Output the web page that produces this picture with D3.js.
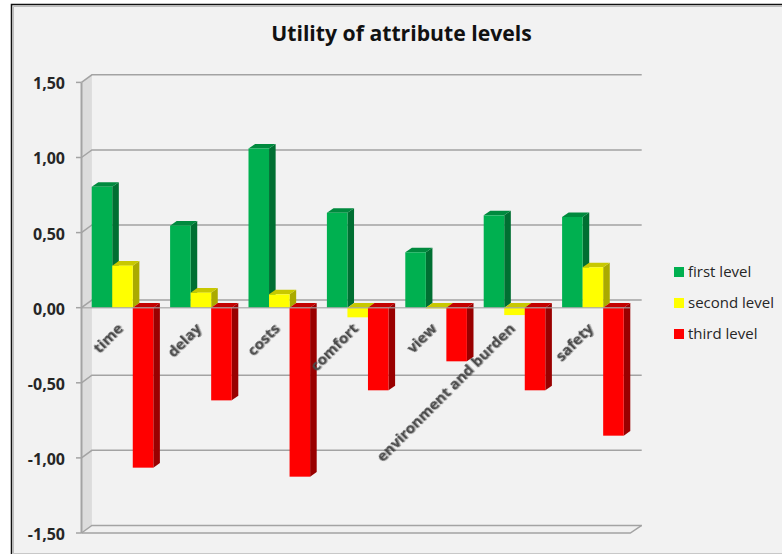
<!DOCTYPE html>
<html>
<head>
<meta charset="utf-8">
<script src="https://cdn.jsdelivr.net/npm/d3@7/dist/d3.min.js"></script>
<style>
html, body { margin: 0; padding: 0; background: #fff; }
svg { display: block; }
text { font-family: "Open Sans", "Noto Sans", sans-serif; }
</style>
</head>
<body>
<svg id="chart" width="782" height="554"></svg>
<script>
const title = "Utility of attribute levels";
const categories = ["time", "delay", "costs", "comfort", "view", "environment and burden", "safety"];
const seriesNames = ["first level", "second level", "third level"];
const firstLevel = [0.805, 0.546, 1.06, 0.632, 0.369, 0.615, 0.604];
const secondLevel = [0.28, 0.10, 0.089, -0.064, -0.005, -0.049, 0.269];
const thirdLevel = [-1.065, -0.617, -1.125, -0.55, -0.357, -0.55, -0.852];
const yTicks = [-1.5, -1, -0.5, 0, 0.5, 1, 1.5];

const seriesValues = [firstLevel, secondLevel, thirdLevel];
const faceColors = ["#00b050", "#ffff00", "#ff0000"];
const topColors = ["#008a3e", "#c8c800", "#c40000"];
const sideColors = ["#006f32", "#aaaa00", "#990000"];

const svg = d3.select("#chart");
const gridColor = "#a3a3a3";
const tickFormat = v => d3.format(".2f")(v).replace(".", ",").replace("−", "-");

// Frame of the chart area
svg.append("rect").attr("x", 12).attr("y", 5).attr("width", 770).attr("height", 548).attr("fill", "#f2f2f2");
svg.append("path").attr("d", "M13.5,553V6.5H782").attr("fill", "none").attr("stroke", "#bdbdbd").attr("stroke-width", 1);
svg.append("path").attr("d", "M11.5,554V4.5H782").attr("fill", "none").attr("stroke", "#111").attr("stroke-width", 1.5);
svg.append("path").attr("d", "M12,553.5H782").attr("stroke", "#c8c8c8").attr("fill", "none");

// Front plane scales; the back wall sits at a fixed oblique offset
const y = d3.scaleLinear().domain([-1.5, 1.5]).range([533, 82.4]);
const x = d3.scaleBand().domain(categories).range([81.5, 630.3]);
const depthX = 10.4, depthY = 7.6;
const barDepthX = 6.6, barDepthY = 4.6;
const inset = 10.2;
const barWidth = (x.bandwidth() - inset - barDepthX) / 3;

// Side wall and floor of the box
svg.append("polygon")
  .attr("points", [[81.5, y(1.5)], [81.5 + depthX, y(1.5) - depthY], [81.5 + depthX, y(-1.5) - depthY], [81.5, y(-1.5)]].join(" "))
  .attr("fill", "#dcdcdc");
svg.append("polygon")
  .attr("points", [[81.5, y(-1.5)], [81.5 + depthX, y(-1.5) - depthY], [630.3 + depthX + 1, y(-1.5) - depthY], [630.3, y(-1.5)]].join(" "))
  .attr("fill", "#f0f0f0");

// Gridlines on the back wall, joined to the side wall
const grid = svg.append("g").attr("fill", "none").attr("stroke", gridColor).attr("stroke-width", 1.5);
yTicks.forEach(t => {
  grid.append("path").attr("d", `M81.5,${y(t)}L${81.5 + depthX},${y(t) - depthY}H${630.3 + depthX + 1}`);
});

// Vertical axis and its ticks
const axisG = svg.append("g");
axisG.append("line").attr("x1", 81.5).attr("x2", 81.5).attr("y1", y(1.5)).attr("y2", y(-1.5))
  .attr("stroke", gridColor).attr("stroke-width", 2);
yTicks.forEach(t => {
  axisG.append("line").attr("x1", 76).attr("x2", 81.5).attr("y1", y(t)).attr("y2", y(t))
    .attr("stroke", gridColor).attr("stroke-width", 1.5);
  axisG.append("text").attr("x", 65).attr("y", y(t) + 1.5).attr("dy", "0.34em")
    .attr("text-anchor", "end").attr("font-size", 16).attr("font-weight", 700).attr("fill", "#262626")
    .text(tickFormat(t));
});

// Floor edge and closing diagonal
const floor = svg.append("g").attr("fill", "none").attr("stroke", gridColor).attr("stroke-width", 1.5);
floor.append("path").attr("d", `M81.5,${y(-1.5)}H630.3L${630.3 + depthX + 1},${y(-1.5) - depthY}`);

// Draws one bar of the oblique column chart: side, top, then front face
function drawBar(g, left, value, s) {
  const top = y(Math.max(value, 0));
  const bottom = y(Math.min(value, 0));
  const right = left + barWidth;
  g.append("polygon")
    .attr("points", [[right, top], [right + barDepthX, top - barDepthY], [right + barDepthX, bottom - barDepthY], [right, bottom]].join(" "))
    .attr("fill", sideColors[s]);
  g.append("polygon")
    .attr("points", [[left, top], [left + barDepthX, top - barDepthY], [right + barDepthX, top - barDepthY], [right, top]].join(" "))
    .attr("fill", topColors[s]);
  g.append("rect").attr("x", left).attr("y", top).attr("width", barWidth).attr("height", bottom - top)
    .attr("fill", faceColors[s]);
}

const bars = svg.append("g");
categories.forEach((c, i) => {
  seriesValues.forEach((vals, s) => {
    drawBar(bars, x(c) + inset + s * barWidth, vals[i], s);
  });
});

// Front edge of the zero plane runs over the bars
svg.append("line").attr("x1", 81.5).attr("x2", 630.3).attr("y1", y(0)).attr("y2", y(0))
  .attr("stroke", gridColor).attr("stroke-width", 1.5).attr("stroke-opacity", 0.75);

// Slanted category labels with a soft drop shadow
const defs = svg.append("defs");
const shadow = defs.append("filter").attr("id", "labelShadow").attr("x", "-20%").attr("y", "-20%").attr("width", "140%").attr("height", "140%");
shadow.append("feDropShadow").attr("dx", 0.8).attr("dy", 0.8).attr("stdDeviation", 0.7)
  .attr("flood-color", "#000").attr("flood-opacity", 0.45);

svg.append("g").selectAll("text").data(categories).join("text")
  .attr("transform", d => `translate(${x(d) + x.bandwidth() * 0.5 - 0.5},326) rotate(-45)`)
  .attr("text-anchor", "end")
  .attr("dy", "0.34em")
  .attr("font-size", 15).attr("font-weight", 700).attr("fill", "#4a4a4a")
  .attr("filter", "url(#labelShadow)")
  .text(d => d);

// Title
svg.append("text").attr("x", 401.5).attr("y", 40.5).attr("text-anchor", "middle")
  .attr("font-size", 21.2).attr("font-weight", 700).attr("fill", "#111").text(title);

// Legend
const legendY = d3.scalePoint().domain(seriesNames).range([272, 334]);
const legend = svg.append("g");
seriesNames.forEach((n, s) => {
  legend.append("rect").attr("x", 674).attr("y", legendY(n) - 5).attr("width", 10).attr("height", 10).attr("fill", faceColors[s]);
  legend.append("text").attr("x", 688).attr("y", legendY(n)).attr("dy", "0.34em")
    .attr("font-size", 15).attr("fill", "#262626").text(n);
});
</script>
</body>
</html>
